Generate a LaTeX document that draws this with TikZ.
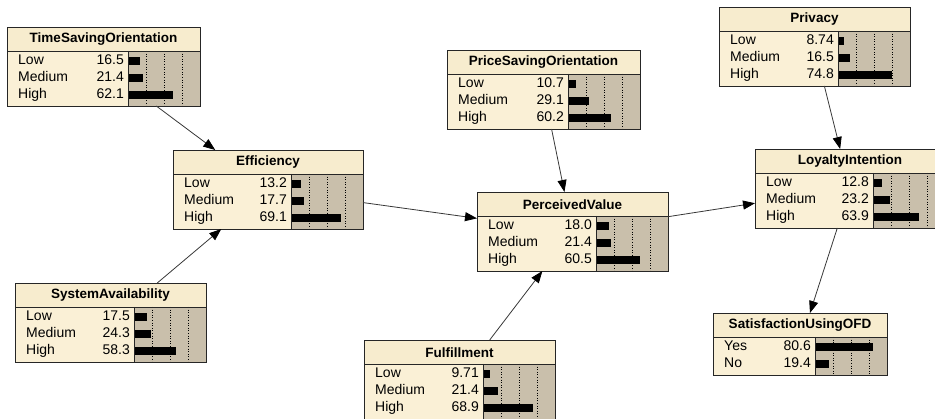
\documentclass[tikz,border=0pt]{standalone}
\usepackage{fontspec}
\setmainfont{Liberation Sans}
\usetikzlibrary{arrows.meta}

\definecolor{titlebg}{RGB}{247,236,206}
\definecolor{labelbg}{RGB}{250,240,214}
\definecolor{barbg}{RGB}{201,191,171}
\definecolor{linkgray}{RGB}{55,55,55}

\tikzset{
  bnbox/.style={draw=black!85, line width=0.9pt, inner sep=0pt, outer sep=0pt, anchor=north west},
  bntitle/.style={font=\fontsize{13.5}{15}\selectfont\bfseries, inner sep=0pt},
  bnstate/.style={font=\fontsize{14}{16}\selectfont, inner sep=0pt, text height=10pt, text depth=2.5pt},
  bngrid/.style={black, dotted, line width=0.6pt},
  link/.style={draw=linkgray, line width=0.8pt, -{Triangle[length=12pt,width=9pt,color=black]}}
}

% #1 name, #2 top left corner, #3 width of the label part, #4 number of states,
% #5 title, #6 state/probability pairs
\newcommand{\bnnode}[6]{%
  \begin{scope}[shift={(#2)}]
    \pgfmathsetmacro{\bnw}{#3+72}
    \pgfmathsetmacro{\bnh}{28+17*#4}
    \fill[barbg] (#3,24) rectangle (\bnw,\bnh);
    \fill[labelbg] (0,24) rectangle (#3,\bnh);
    \fill[titlebg] (0,0) rectangle (\bnw,24);
    \foreach \g in {18,36,54}
      \draw[bngrid] (#3+\g,24) -- (#3+\g,\bnh);
    \foreach \st/\val [count=\i] in {#6} {
      \pgfmathsetmacro{\ry}{17+17*\i}
      \fill[black] (#3,\ry-4) rectangle ++(0.72*\val,8);
      \node[bnstate, anchor=west] at (11,\ry) {\st};
      \node[bnstate, anchor=east] at (#3-4,\ry) {\val};
    }
    \draw[black!85, line width=0.9pt] (0,24) -- (\bnw,24) (#3,24) -- (#3,\bnh);
    \node[bntitle] at (\bnw/2,12.5) {#5};
    \node[bnbox, minimum width=\bnw pt, minimum height=\bnh pt] (#1) at (0,0) {};
  \end{scope}
}

\begin{document}
\begin{tikzpicture}[x=1pt,y=-1pt]
  \useasboundingbox (0,0) rectangle (935,419);
  \clip (0,0) rectangle (935,419);

  \bnnode{tso}{7,27}{121}{3}{TimeSavingOrientation}{Low/16.5, Medium/21.4, High/62.1}
  \bnnode{eff}{173,150}{118}{3}{Efficiency}{Low/13.2, Medium/17.7, High/69.1}
  \bnnode{sys}{15,283}{119}{3}{SystemAvailability}{Low/17.5, Medium/24.3, High/58.3}
  \bnnode{pso}{447,50}{121}{3}{PriceSavingOrientation}{Low/10.7, Medium/29.1, High/60.2}
  \bnnode{pv}{477,192}{119}{3}{PerceivedValue}{Low/18.0, Medium/21.4, High/60.5}
  \bnnode{ful}{364,340}{119}{3}{Fulfillment}{Low/9.71, Medium/21.4, High/68.9}
  \bnnode{prv}{719,7}{119}{3}{Privacy}{Low/8.74, Medium/16.5, High/74.8}
  \bnnode{loy}{755,149}{118}{3}{LoyaltyIntention}{Low/12.8, Medium/23.2, High/63.9}
  \bnnode{sat}{713,313}{102}{2}{SatisfactionUsingOFD}{Yes/80.6, No/19.4}

  \draw[link] (tso) -- (eff);
  \draw[link] (sys) -- (eff);
  \draw[link] (eff) -- (pv);
  \draw[link] (pso) -- (pv);
  \draw[link] (ful) -- (pv);
  \draw[link] (pv) -- (loy);
  \draw[link] (prv) -- (loy);
  \draw[link] (loy) -- (sat);
\end{tikzpicture}
\end{document}
